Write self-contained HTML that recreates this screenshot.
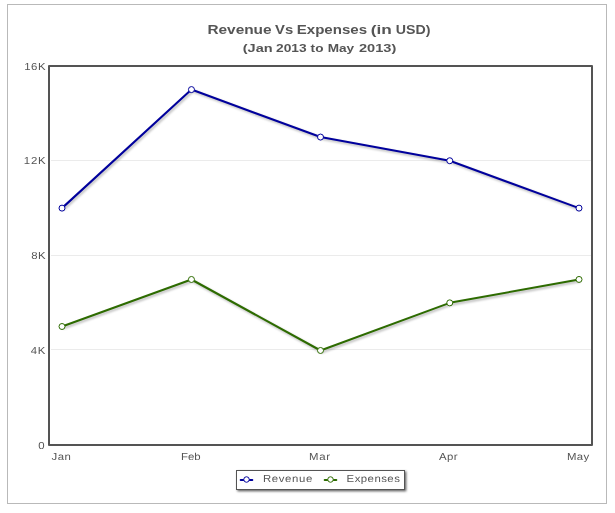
<!DOCTYPE html>
<html><head><meta charset="utf-8"><title>Revenue Vs Expenses</title>
<style>
html,body{margin:0;padding:0;background:#fff;}
body{width:615px;height:513px;overflow:hidden;position:relative;font-family:"Liberation Sans",sans-serif;}
svg{position:absolute;left:0;top:0;display:block;will-change:transform}
text{font-family:"Liberation Sans",sans-serif;fill:#555555}
</style></head><body>
<svg width="615" height="513" viewBox="0 0 615 513" xmlns="http://www.w3.org/2000/svg">
<defs>
<filter id="ls" x="-5%" y="-5%" width="110%" height="110%"><feGaussianBlur stdDeviation="0.9"/></filter>
<filter id="bs" x="-10%" y="-30%" width="120%" height="170%"><feGaussianBlur stdDeviation="1.2"/></filter>
</defs>
<rect x="0" y="0" width="615" height="513" fill="#ffffff"/>
<rect x="7.5" y="4.5" width="599" height="499" fill="#ffffff" stroke="#b9b9b9" stroke-width="1"/>
<line x1="51" y1="160.5" x2="591" y2="160.5" stroke="#ebebeb" stroke-width="1"/>
<line x1="51" y1="255.5" x2="591" y2="255.5" stroke="#ebebeb" stroke-width="1"/>
<line x1="51" y1="349.5" x2="591" y2="349.5" stroke="#ebebeb" stroke-width="1"/>
<polyline points="62.00,208.12 191.45,89.58 320.50,137.06 449.75,160.72 579.00,208.12" fill="none" stroke="#000" stroke-opacity="0.26" stroke-width="2.4" transform="translate(1.3,1.6)" filter="url(#ls)" stroke-linejoin="round"/>
<polyline points="62.00,326.50 191.45,279.48 320.50,350.48 449.75,302.85 579.00,279.45" fill="none" stroke="#000" stroke-opacity="0.26" stroke-width="2.4" transform="translate(1.3,1.6)" filter="url(#ls)" stroke-linejoin="round"/>
<rect x="49" y="66" width="543" height="379" fill="none" stroke="#545454" stroke-width="2" stroke-linejoin="round"/>
<polyline points="62.00,208.12 191.45,89.58 320.50,137.06 449.75,160.72 579.00,208.12" fill="none" stroke="#00009c" stroke-width="2.05" stroke-linejoin="round" stroke-linecap="round"/>
<circle cx="62.00" cy="208.12" r="3" fill="#fff" stroke="#00009c" stroke-width="1"/>
<circle cx="191.45" cy="89.58" r="3" fill="#fff" stroke="#00009c" stroke-width="1"/>
<circle cx="320.50" cy="137.06" r="3" fill="#fff" stroke="#00009c" stroke-width="1"/>
<circle cx="449.75" cy="160.72" r="3" fill="#fff" stroke="#00009c" stroke-width="1"/>
<circle cx="579.00" cy="208.12" r="3" fill="#fff" stroke="#00009c" stroke-width="1"/>
<polyline points="62.00,326.50 191.45,279.48 320.50,350.48 449.75,302.85 579.00,279.45" fill="none" stroke="#2d6b00" stroke-width="2.05" stroke-linejoin="round" stroke-linecap="round"/>
<circle cx="62.00" cy="326.50" r="3" fill="#fff" stroke="#2d6b00" stroke-width="1"/>
<circle cx="191.45" cy="279.48" r="3" fill="#fff" stroke="#2d6b00" stroke-width="1"/>
<circle cx="320.50" cy="350.48" r="3" fill="#fff" stroke="#2d6b00" stroke-width="1"/>
<circle cx="449.75" cy="302.85" r="3" fill="#fff" stroke="#2d6b00" stroke-width="1"/>
<circle cx="579.00" cy="279.45" r="3" fill="#fff" stroke="#2d6b00" stroke-width="1"/>
<rect x="237.3" y="471.3" width="169" height="20" fill="#000" fill-opacity="0.62" filter="url(#bs)"/>
<rect x="236.5" y="470.5" width="168" height="19" fill="#fff" stroke="#545454" stroke-width="1"/>
<line x1="240.7" y1="480" x2="252.3" y2="480" stroke="#00009c" stroke-width="2" stroke-linecap="round"/>
<circle cx="246.5" cy="479.5" r="2.75" fill="#fff" stroke="#00009c" stroke-width="1"/>
<line x1="324.7" y1="480" x2="336.3" y2="480" stroke="#2d6b00" stroke-width="2" stroke-linecap="round"/>
<circle cx="330.5" cy="479.5" r="2.75" fill="#fff" stroke="#2d6b00" stroke-width="1"/>
<text x="207.41" y="34.00" font-size="13.00" font-weight="bold" textLength="64.19" lengthAdjust="spacingAndGlyphs">Revenue</text>
<text x="275.04" y="34.00" font-size="13.00" font-weight="bold" textLength="18.16" lengthAdjust="spacingAndGlyphs">Vs</text>
<text x="296.72" y="34.00" font-size="13.00" font-weight="bold" textLength="70.34" lengthAdjust="spacingAndGlyphs">Expenses</text>
<text x="370.68" y="34.00" font-size="13.00" font-weight="bold" textLength="21.03" lengthAdjust="spacingAndGlyphs">(in</text>
<text x="395.82" y="34.00" font-size="13.00" font-weight="bold" textLength="34.68" lengthAdjust="spacingAndGlyphs">USD)</text>
<text x="242.79" y="52.00" font-size="11.00" font-weight="bold" textLength="29.86" lengthAdjust="spacingAndGlyphs">(Jan</text>
<text x="276.00" y="52.00" font-size="11.00" font-weight="bold" textLength="30.54" lengthAdjust="spacingAndGlyphs">2013</text>
<text x="310.62" y="52.00" font-size="11.00" font-weight="bold" textLength="12.83" lengthAdjust="spacingAndGlyphs">to</text>
<text x="327.68" y="52.00" font-size="11.00" font-weight="bold" textLength="26.48" lengthAdjust="spacingAndGlyphs">May</text>
<text x="358.94" y="52.00" font-size="11.00" font-weight="bold" textLength="37.32" lengthAdjust="spacingAndGlyphs">2013)</text>
<text transform="translate(24.15 70.00) rotate(0.05) scale(1.120 1)" font-size="10.17" textLength="19.09" lengthAdjust="spacing">16K</text>
<text transform="translate(23.87 164.00) rotate(0.05) scale(1.120 1)" font-size="10.17" textLength="19.37" lengthAdjust="spacing">12K</text>
<text transform="translate(31.17 259.00) rotate(0.05) scale(1.120 1)" font-size="10.17" textLength="12.85" lengthAdjust="spacing">8K</text>
<text transform="translate(30.67 354.00) rotate(0.05) scale(1.120 1)" font-size="10.17" textLength="13.10" lengthAdjust="spacing">4K</text>
<text transform="translate(38.18 449.00) rotate(0.05) scale(1.120 1)" font-size="10.17">0</text>
<text transform="translate(51.60 460.00) rotate(0.05) scale(1.120 1)" font-size="10.17" textLength="17.12" lengthAdjust="spacing">Jan</text>
<text transform="translate(180.96 460.00) rotate(0.05) scale(1.120 1)" font-size="10.17" textLength="17.59" lengthAdjust="spacing">Feb</text>
<text transform="translate(308.98 460.00) rotate(0.05) scale(1.120 1)" font-size="10.17" textLength="18.82" lengthAdjust="spacing">Mar</text>
<text transform="translate(438.89 460.00) rotate(0.05) scale(1.120 1)" font-size="10.17" textLength="16.68" lengthAdjust="spacing">Apr</text>
<text transform="translate(566.98 460.00) rotate(0.05) scale(1.120 1)" font-size="10.17" textLength="19.77" lengthAdjust="spacing">May</text>
<text transform="translate(262.98 482.00) rotate(0.05) scale(1.120 1)" font-size="10.17" textLength="43.96" lengthAdjust="spacing">Revenue</text>
<text transform="translate(346.59 482.00) rotate(0.05) scale(1.120 1)" font-size="10.17" textLength="47.56" lengthAdjust="spacing">Expenses</text>
</svg>
</body></html>
